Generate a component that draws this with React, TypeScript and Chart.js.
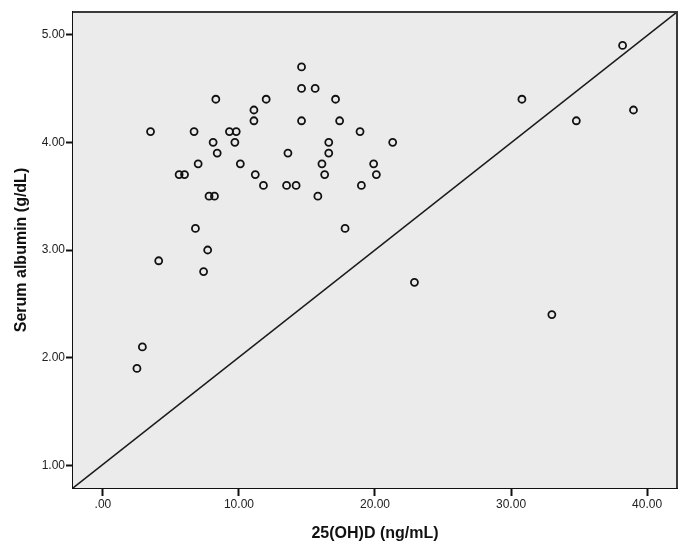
import React, { useEffect, useRef } from "react";
import { Chart, registerables } from "chart.js";

Chart.register(...registerables);

// 25(OH)D (ng/mL)
const VITD: number[] = [
  2.5, 2.9, 3.5, 4.1, 5.6, 6.0, 6.7, 6.8, 7.0, 7.4, 7.7, 7.8, 8.2, 8.1, 8.3, 8.4,
  9.3, 9.8, 9.7, 10.1, 11.1, 11.1, 11.2, 11.8, 12.0, 13.5, 13.6, 14.2, 14.6, 14.6,
  14.6, 15.6, 15.8, 16.1, 16.3, 16.6, 16.6, 17.1, 17.4, 17.8, 18.9, 19.0, 19.9,
  20.1, 21.3, 22.9, 30.8, 33.0, 34.8, 38.2, 39.0,
];
// Serum albumin (g/dL)
const ALBUMIN: number[] = [
  1.9, 2.1, 4.1, 2.9, 3.7, 3.7, 4.1, 3.2, 3.8, 2.8, 3.0, 3.5, 3.5, 4.0, 4.4, 3.9,
  4.1, 4.1, 4.0, 3.8, 4.3, 4.2, 3.7, 3.6, 4.4, 3.6, 3.9, 3.6, 4.7, 4.5,
  4.2, 4.5, 3.5, 3.8, 3.7, 4.0, 3.9, 4.4, 4.2, 3.2, 4.1, 3.6, 3.8,
  3.7, 4.0, 2.7, 4.4, 2.4, 4.2, 4.9, 4.3,
];

const X_TICKS: number[] = [0, 10, 20, 30, 40];
const Y_TICKS: number[] = [1, 2, 3, 4, 5];
const X_MIN = -2.2;
const X_MAX = 42.2;
const Y_MIN = 0.79;
const Y_MAX = 5.21;

const X_TITLE = "25(OH)D (ng/mL)";
const Y_TITLE = "Serum albumin (g/dL)";

const fmt = (v: number) => {
  const s = v.toFixed(2);
  return s.startsWith("0.") ? s.slice(1) : s;
};

export default function App() {
  const ref = useRef<HTMLCanvasElement | null>(null);

  useEffect(() => {
    if (!ref.current) return;
    const frame = {
      id: "frame",
      beforeDatasetsDraw(chart: any) {
        const { ctx, chartArea: a } = chart;
        ctx.save();
        ctx.fillStyle = "#ebebeb";
        ctx.fillRect(a.left, a.top, a.right - a.left, a.bottom - a.top);
        ctx.restore();
      },
      afterDatasetsDraw(chart: any) {
        const { ctx, chartArea: a } = chart;
        ctx.save();
        ctx.strokeStyle = "#3a3a3a";
        ctx.lineWidth = 2;
        ctx.beginPath();
        ctx.moveTo(a.left, a.top);
        ctx.lineTo(a.right, a.top);
        ctx.lineTo(a.right, a.bottom);
        ctx.stroke();
        ctx.restore();
      },
    };

    const chart = new Chart(ref.current, {
      type: "scatter",
      data: {
        datasets: [
          {
            type: "line",
            data: [
              { x: X_MIN, y: Y_MIN },
              { x: X_MAX, y: Y_MAX },
            ],
            borderColor: "#1a1a1a",
            borderWidth: 1.5,
            pointRadius: 0,
            fill: false,
          } as any,
          {
            data: VITD.map((x, i) => ({ x, y: ALBUMIN[i] })),
            pointRadius: 3.5,
            pointBorderWidth: 1.8,
            pointBorderColor: "#111",
            pointBackgroundColor: "rgba(0,0,0,0)",
            pointStyle: "circle",
          },
        ],
      },
      options: {
        animation: false,
        responsive: false,
        devicePixelRatio: 1,
        layout: { padding: { left: 0, top: 12, right: 15, bottom: 0 } },
        plugins: { legend: { display: false }, tooltip: { enabled: false } },
        scales: {
          x: {
            type: "linear",
            min: X_MIN,
            max: X_MAX,
            afterFit: (s: any) => {
              s.height = 60;
            },
            afterBuildTicks: (s: any) => {
              s.ticks = X_TICKS.map((v) => ({ value: v }));
            },
            grid: {
              drawOnChartArea: false,
              drawTicks: true,
              tickLength: 8,
              tickWidth: 2,
              tickColor: "#111",
            },
            border: { display: true, color: "#111", width: 2 },
            ticks: {
              padding: 1,
              color: "#222",
              font: { family: "'Liberation Sans', Arial, sans-serif", size: 12 },
              callback: (v: any) => fmt(Number(v)),
              maxRotation: 0,
            },
            title: {
              display: true,
              text: X_TITLE,
              color: "#111",
              font: { family: "'Liberation Sans', Arial, sans-serif", size: 16, weight: "bold" },
              padding: { top: 0, bottom: 5 },
            },
          },
          y: {
            type: "linear",
            min: Y_MIN,
            max: Y_MAX,
            afterFit: (s: any) => {
              s.width = 73;
            },
            afterBuildTicks: (s: any) => {
              s.ticks = Y_TICKS.map((v) => ({ value: v }));
            },
            grid: {
              drawOnChartArea: false,
              drawTicks: true,
              tickLength: 7,
              tickWidth: 2,
              tickColor: "#111",
            },
            border: { display: true, color: "#111", width: 2 },
            ticks: {
              padding: 1,
              color: "#222",
              font: { family: "'Liberation Sans', Arial, sans-serif", size: 12 },
              callback: (v: any) => fmt(Number(v)),
            },
            title: {
              display: true,
              text: Y_TITLE,
              color: "#111",
              font: { family: "'Liberation Sans', Arial, sans-serif", size: 16, weight: "bold" },
              padding: { top: 12, bottom: 0 },
            },
          },
        },
      },
      plugins: [frame],
    } as any);
    return () => chart.destroy();
  }, []);

  return (
    <div style={{ position: "fixed", left: 0, top: 0, width: 692, height: 548, background: "#fff" }}>
      <canvas ref={ref} width={692} height={548} style={{ width: 692, height: 548, display: "block" }} />
    </div>
  );
}
